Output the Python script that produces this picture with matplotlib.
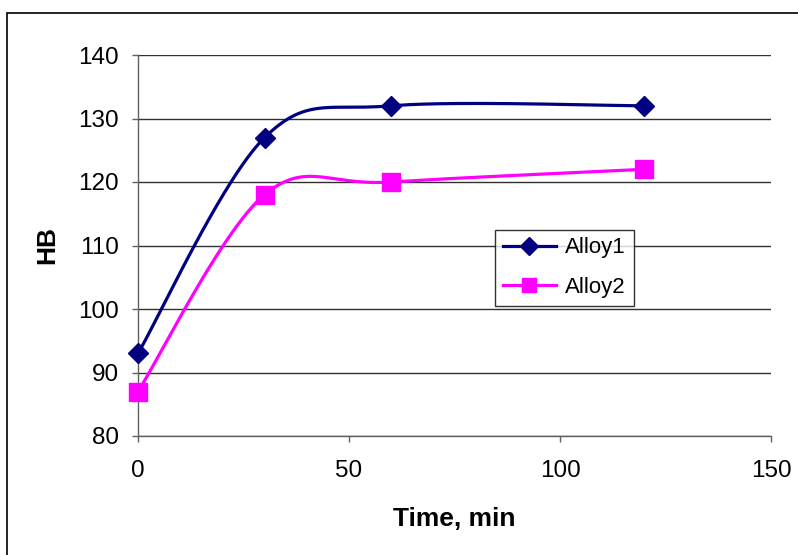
import numpy as np
import matplotlib
matplotlib.use("Agg")
import matplotlib.pyplot as plt
from matplotlib.lines import Line2D
from matplotlib.patches import Rectangle

plt.rcParams['font.family'] = ['Liberation Sans', 'DejaVu Sans']

time_min = [0, 30, 60, 120]
alloy1 = [93, 127, 132, 132]
alloy2 = [87, 118, 120, 122]
series_names = ["Alloy1", "Alloy2"]
x_ticks = [0, 50, 100, 150]
y_ticks = [80, 90, 100, 110, 120, 130, 140]


def smooth(xs, ys, n=60):
    """Catmull-Rom style cubic Bezier smoothing (like Excel's smoothed line)."""
    P = np.column_stack([xs, ys]).astype(float)
    out = []
    m = len(P)
    for i in range(m - 1):
        p0 = P[i - 1] if i > 0 else P[i]
        p1 = P[i]
        p2 = P[i + 1]
        p3 = P[i + 2] if i + 2 < m else P[i + 1]
        c1 = p1 + (p2 - p0) / 6.0
        c2 = p2 - (p3 - p1) / 6.0
        t = np.linspace(0, 1, n)[:, None]
        seg = ((1 - t) ** 3) * p1 + 3 * ((1 - t) ** 2) * t * c1 + 3 * (1 - t) * t ** 2 * c2 + t ** 3 * p2
        out.append(seg if i == 0 else seg[1:])
    arr = np.vstack(out)
    return arr[:, 0], arr[:, 1]


fig = plt.figure(figsize=(7.98, 5.55), dpi=100)
# outer chart frame
fig.patches.append(Rectangle((7 / 798, -0.05), 1.2, 1 - 13 / 555 + 0.05,
                             transform=fig.transFigure, fill=False,
                             edgecolor='black', linewidth=1.2, zorder=0))

ax = fig.add_axes([138 / 798, 1 - 436 / 555, (771 - 138) / 798, (436 - 55) / 555])

c1, c2 = '#000080', '#FF00FF'
sx, sy = smooth(time_min, alloy1)
ax.plot(sx, sy, color=c1, lw=2.3, zorder=3, solid_capstyle='round', clip_on=False)
ax.plot(time_min, alloy1, ls='none', marker='D', ms=10, color=c1, zorder=6, clip_on=False)
sx, sy = smooth(time_min, alloy2)
ax.plot(sx, sy, color=c2, lw=2.3, zorder=3, solid_capstyle='round', clip_on=False)
ax.plot(time_min, alloy2, ls='none', marker='s', ms=13, color=c2, zorder=6, clip_on=False)

ax.set_xlim(0, 150)
ax.set_ylim(80, 140)
ax.set_xticks(x_ticks)
ax.set_yticks(y_ticks)
ax.yaxis.grid(True, color='#303030', lw=1.0)
ax.set_axisbelow(True)
for s in ['top', 'right']:
    ax.spines[s].set_visible(False)
for s in ['left', 'bottom']:
    ax.spines[s].set_color('#606060')
    ax.spines[s].set_linewidth(1.0)
ax.spines['left'].set_zorder(5)
ax.tick_params(axis='both', direction='out', length=4.5, width=1.0, color='#606060',
               labelsize=17.5)
ax.tick_params(axis='x', pad=13)
ax.tick_params(axis='y', pad=9)

ax.set_xlabel('Time, min', fontsize=19, fontweight='bold', labelpad=18)
ax.set_ylabel('HB', fontsize=19, fontweight='bold', labelpad=14)

handles = [Line2D([], [], color=c1, lw=2.3, marker='D', ms=9),
           Line2D([], [], color=c2, lw=2.3, marker='s', ms=10)]
leg = fig.legend(handles, series_names, loc='lower left',
                 bbox_to_anchor=(495 / 798, 1 - 306 / 555), fontsize=16,
                 frameon=True, fancybox=False, edgecolor='black',
                 handlelength=2.4, handletextpad=0.4, borderpad=0.35,
                 labelspacing=0.85, borderaxespad=0)
leg.get_frame().set_linewidth(1.0)

fig.savefig('out.png', dpi=100)
